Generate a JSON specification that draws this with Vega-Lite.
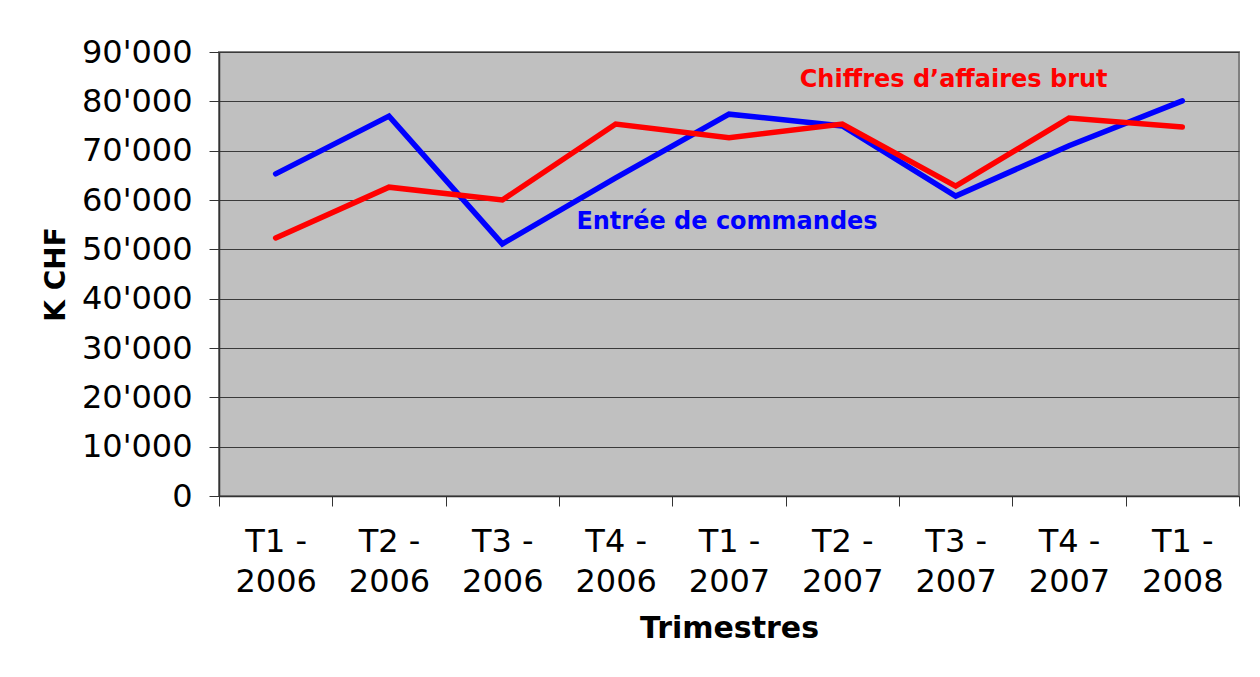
{
  "$schema": "https://vega.github.io/schema/vega-lite/v6.json",
  "width": 1020,
  "height": 444,
  "autosize": "none",
  "padding": {"left": 219, "top": 52, "right": 21, "bottom": 181},
  "background": "white",
  "config": {
    "font": "DejaVu Sans",
    "view": {"fill": "#c0c0c0", "stroke": "#808080", "strokeWidth": 2}
  },
  "datasets": {
    "series": [
      {"trimestre": "T1 - 2006", "serie": "Entrée de commandes", "kchf": 65300},
      {"trimestre": "T2 - 2006", "serie": "Entrée de commandes", "kchf": 77000},
      {"trimestre": "T3 - 2006", "serie": "Entrée de commandes", "kchf": 51100},
      {"trimestre": "T4 - 2006", "serie": "Entrée de commandes", "kchf": 64500},
      {"trimestre": "T1 - 2007", "serie": "Entrée de commandes", "kchf": 77400},
      {"trimestre": "T2 - 2007", "serie": "Entrée de commandes", "kchf": 75000},
      {"trimestre": "T3 - 2007", "serie": "Entrée de commandes", "kchf": 60800},
      {"trimestre": "T4 - 2007", "serie": "Entrée de commandes", "kchf": 71000},
      {"trimestre": "T1 - 2008", "serie": "Entrée de commandes", "kchf": 80100},
      {"trimestre": "T1 - 2006", "serie": "Chiffres d’affaires brut", "kchf": 52300},
      {"trimestre": "T2 - 2006", "serie": "Chiffres d’affaires brut", "kchf": 62600},
      {"trimestre": "T3 - 2006", "serie": "Chiffres d’affaires brut", "kchf": 60000},
      {"trimestre": "T4 - 2006", "serie": "Chiffres d’affaires brut", "kchf": 75400},
      {"trimestre": "T1 - 2007", "serie": "Chiffres d’affaires brut", "kchf": 72600},
      {"trimestre": "T2 - 2007", "serie": "Chiffres d’affaires brut", "kchf": 75400},
      {"trimestre": "T3 - 2007", "serie": "Chiffres d’affaires brut", "kchf": 62800},
      {"trimestre": "T4 - 2007", "serie": "Chiffres d’affaires brut", "kchf": 76600},
      {"trimestre": "T1 - 2008", "serie": "Chiffres d’affaires brut", "kchf": 74800}
    ],
    "labels": [
      {"trimestre": "T3 - 2007", "serie": "Chiffres d’affaires brut", "kchf": 84300, "label": "Chiffres d’affaires brut"},
      {"trimestre": "T1 - 2007", "serie": "Entrée de commandes", "kchf": 55500, "label": "Entrée de commandes"}
    ]
  },
  "encoding": {
    "x": {
      "field": "trimestre",
      "type": "ordinal",
      "scale": {
        "type": "band",
        "paddingInner": 0,
        "paddingOuter": 0,
        "domain": ["T1 - 2006", "T2 - 2006", "T3 - 2006", "T4 - 2006", "T1 - 2007", "T2 - 2007", "T3 - 2007", "T4 - 2007", "T1 - 2008"]
      },
      "axis": {
        "title": "Trimestres",
        "titleFontSize": 30,
        "titleFontWeight": "bold",
        "titleColor": "black",
        "titlePadding": 16,
        "labelAngle": 0,
        "labelFontSize": 32,
        "labelColor": "black",
        "labelLineHeight": 40,
        "labelPadding": 20,
        "labelExpr": "[slice(datum.label, 0, 4), slice(datum.label, 5)]",
        "tickBand": "extent",
        "tickSize": 10,
        "tickColor": "#333333",
        "domainColor": "#333333",
        "domainWidth": 1.5
      }
    },
    "y": {
      "field": "kchf",
      "type": "quantitative",
      "scale": {"domain": [0, 90000]},
      "axis": {
        "title": "K CHF",
        "titleFontSize": 28,
        "titleFontWeight": "bold",
        "titleColor": "black",
        "titlePadding": 11,
        "values": [0, 10000, 20000, 30000, 40000, 50000, 60000, 70000, 80000, 90000],
        "labelExpr": "replace(format(datum.value, ','), ',', \"'\")",
        "labelFontSize": 32,
        "labelColor": "black",
        "labelPadding": 17,
        "tickSize": 10,
        "tickColor": "#333333",
        "domainColor": "#333333",
        "domainWidth": 1.5,
        "grid": true,
        "gridColor": "#3a3a3a",
        "gridWidth": 1
      }
    }
  },
  "layer": [
    {
      "data": {"name": "series"},
      "mark": {"type": "line", "strokeWidth": 5.5, "strokeCap": "round", "strokeJoin": "miter"},
      "encoding": {
        "color": {
          "field": "serie",
          "type": "nominal",
          "scale": {"domain": ["Entrée de commandes", "Chiffres d’affaires brut"], "range": ["#0000ff", "#ff0000"]},
          "legend": null
        }
      }
    },
    {
      "data": {"name": "labels"},
      "mark": {"type": "text", "fontWeight": "bold", "fontSize": 24, "align": "center", "baseline": "middle", "dx": -2},
      "encoding": {
        "text": {"field": "label"},
        "color": {
          "field": "serie",
          "type": "nominal",
          "scale": {"domain": ["Entrée de commandes", "Chiffres d’affaires brut"], "range": ["#0000ff", "#ff0000"]},
          "legend": null
        }
      }
    }
  ]
}
